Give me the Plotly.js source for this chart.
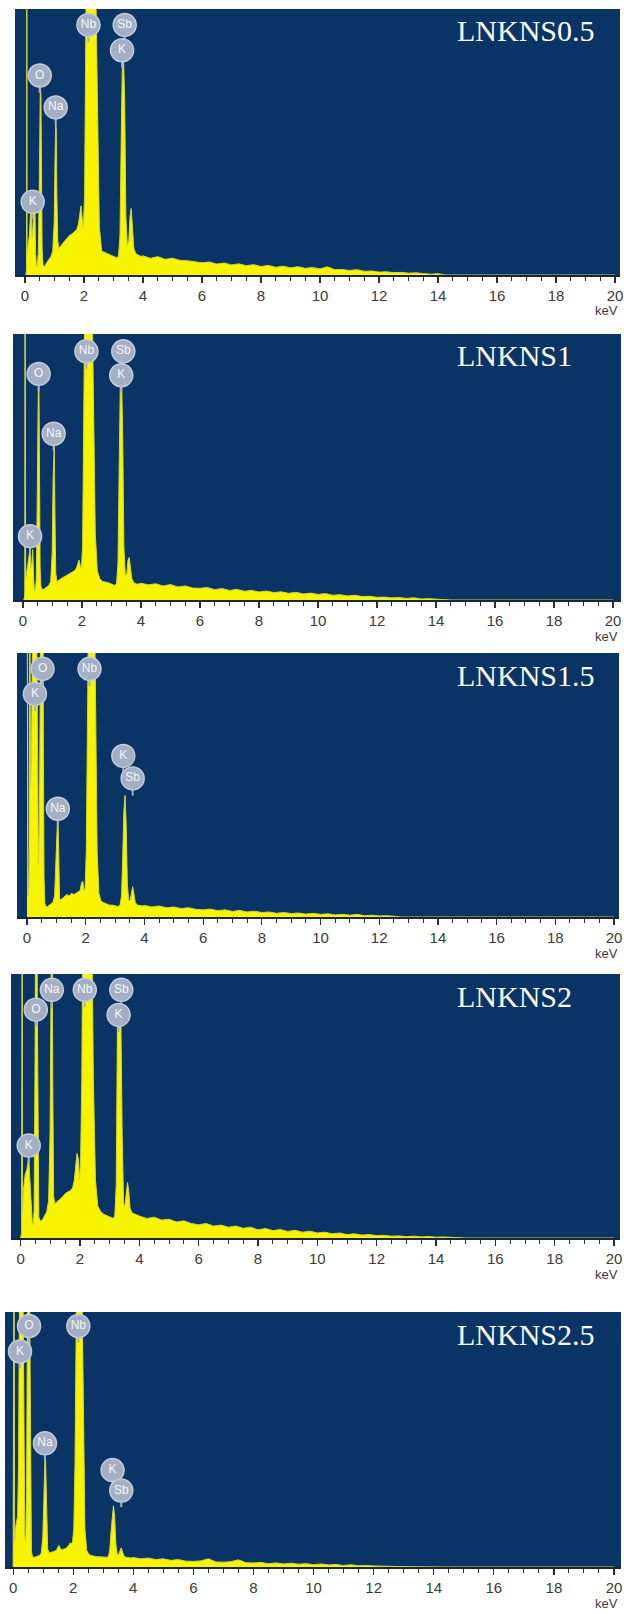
<!DOCTYPE html>
<html>
<head>
<meta charset="utf-8">
<script src="https://cdn.plot.ly/plotly-3.0.1.min.js"></script>
<style>html,body{margin:0;padding:0;background:#fff;}#chart{width:624px;height:1613px;}</style>
</head>
<body>
<div id="chart"></div>
<script>
// ---------- DATA ----------
const sampleNames = ['LNKNS0.5', 'LNKNS1', 'LNKNS1.5', 'LNKNS2', 'LNKNS2.5'];

const energyLow = [
  0.00, 0.03, 0.05, 0.06, 0.07, 0.09, 0.12, 0.15, 0.18, 0.21,
  0.24, 0.27, 0.30, 0.33, 0.36, 0.39, 0.42, 0.45, 0.48, 0.50,
  0.52, 0.54, 0.56, 0.58, 0.61, 0.65, 0.70, 0.76, 0.82, 0.88,
  0.94, 0.99, 1.02, 1.04, 1.06, 1.08, 1.11, 1.15, 1.21, 1.28,
  1.36, 1.44, 1.52, 1.60, 1.68, 1.75, 1.81, 1.86, 1.90, 1.94,
  1.98, 2.02, 2.06, 2.10, 2.14, 2.18, 2.22, 2.26, 2.30, 2.34,
  2.39, 2.45, 2.52, 2.60, 2.70, 2.80, 2.90, 3.00, 3.10, 3.17,
  3.22, 3.26, 3.30, 3.34, 3.38, 3.42, 3.47, 3.52, 3.56, 3.60,
  3.64, 3.69, 3.76, 3.85, 3.93
];
const energyTail = [
  4.00, 4.25, 4.50, 4.75, 5.00, 5.25, 5.50, 5.75, 6.00, 6.25,
  6.50, 6.75, 7.00, 7.25, 7.50, 7.75, 8.00, 8.25, 8.50, 8.75,
  9.00, 9.25, 9.50, 9.75, 10.00, 10.25, 10.50, 10.75, 11.00, 11.25,
  11.50, 11.75, 12.00, 12.25, 12.50, 12.75, 13.00, 13.25, 13.50, 13.75,
  14.00, 14.25, 14.50, 14.75, 15.00, 16, 17, 18, 19, 20
];

// counts (relative, 100 = top of frame; values above 100 are clipped)
const lnkns05Low = [
  0, 0, 2, 150, 8, 10, 12, 15, 22, 26,
  14, 18, 28, 30, 8, 3, 4, 8, 30, 60,
  71, 68, 35, 10, 4, 3, 4, 5, 6, 7,
  9, 20, 45, 57, 55, 30, 13, 10, 11, 12,
  13, 14, 15, 15.5, 16.5, 17, 19, 24, 26, 21,
  18, 30, 90, 150, 165, 170, 170, 165, 150, 130,
  115, 70, 18, 9, 8.5, 8, 7.5, 7, 6.5, 7,
  15, 50, 80, 82, 65, 22, 11, 13, 22, 25,
  18, 10, 8, 7.5, 7
];
const lnkns05Tail = [
  7.2, 6.3, 6.9, 5.9, 6.3, 5.5, 5.4, 4.9, 4.6, 4.9,
  4.1, 4.5, 3.8, 4.2, 3.5, 3.9, 3.2, 3.6, 2.9, 3.3,
  2.7, 3.1, 2.5, 2.8, 2.3, 3.1, 2.0, 2.1, 1.7, 2.0,
  1.4, 1.5, 1.1, 1.2, 0.9, 1.0, 0.7, 0.8, 0.6, 0.3,
  0.5, 0, 0, 0, 0, 0, 0, 0, 0, 0
];

const lnkns1Low = [
  0, 0, 1, 3, 150, 8, 10, 12, 15, 17,
  20, 12, 14, 19, 8, 3, 4, 8, 35, 65,
  80, 82, 50, 12, 5, 4, 4, 4.5, 5, 5.5,
  7, 18, 45, 58, 59, 35, 10, 7, 7.5, 8,
  8.5, 9, 9.5, 10, 10.5, 11, 12, 14, 15, 13,
  12, 20, 70, 150, 170, 175, 175, 165, 145, 115,
  70, 25, 11, 8, 7, 6.8, 6.5, 6, 5.5, 6,
  14, 50, 82, 84, 62, 20, 9, 10, 15, 16,
  12, 8, 6.5, 6, 6
];
const lnkns1Tail = [
  6.3, 5.7, 6.1, 5.3, 5.8, 4.9, 5.3, 4.5, 4.4, 4.7,
  3.9, 4.3, 3.6, 4.0, 3.3, 3.6, 3.0, 3.4, 2.8, 3.1,
  2.5, 2.9, 2.3, 2.6, 2.1, 2.4, 1.8, 2.0, 1.5, 1.8,
  1.3, 1.4, 1.0, 1.1, 0.8, 0.9, 0.6, 0.8, 0.4, 0.5,
  0.3, 0.2, 0, 0, 0, 0, 0, 0, 0, 0
];

const lnkns15Low = [
  150, 8, 10, 12, 20, 150, 50, 60, 140, 170,
  170, 165, 150, 110, 40, 20, 35, 90, 150, 170,
  170, 140, 60, 15, 5, 4, 4, 4.5, 5, 5.5,
  8, 20, 33, 37, 36, 18, 7, 6.5, 7, 7.5,
  8.5, 8, 9, 8.5, 9, 9.5, 10, 13, 13.5, 10,
  11, 25, 70, 140, 170, 180, 175, 160, 120, 70,
  25, 9, 6, 5.5, 5, 4.5, 4.5, 4.2, 4, 4.5,
  8, 22, 40, 46, 35, 12, 6, 6.5, 9, 11.5,
  9, 5.5, 4.5, 4.3, 4.2
];
const lnkns15Tail = [
  4.4, 3.8, 4.2, 3.5, 3.8, 3.2, 3.5, 2.9, 2.7, 3.0,
  2.4, 2.7, 2.1, 2.5, 1.9, 2.2, 1.7, 1.9, 1.4, 1.7,
  1.3, 1.5, 1.1, 1.4, 1.0, 1.2, 0.8, 1.0, 0.7, 1.0,
  0.5, 0.7, 0.4, 0.5, 0.3, 0, 0, 0, 0, 0,
  0, 0, 0, 0, 0, 0, 0, 0, 0, 0
];

const lnkns2Low = [
  0, 2, 150, 10, 12, 18, 22, 24, 25, 26,
  28, 31, 24, 18, 10, 6, 5, 10, 60, 140,
  170, 160, 90, 25, 8, 6.5, 6.5, 7.5, 9, 10,
  14, 40, 90, 120, 115, 60, 16, 13, 13.5, 14,
  15, 16, 17, 17.5, 18, 19, 22, 28, 32, 30,
  22, 30, 60, 130, 170, 180, 180, 175, 165, 150,
  130, 60, 22, 12, 10, 9, 8.5, 8, 7.5, 8,
  20, 80, 84, 84, 80, 40, 12, 13, 18, 21,
  18, 11, 9.5, 9, 8.5
];
const lnkns2Tail = [
  8.3, 7.4, 7.9, 6.8, 7.1, 6.1, 6.5, 5.5, 5.0, 5.5,
  4.5, 4.9, 4.1, 4.5, 3.7, 4.1, 3.1, 3.6, 2.8, 3.2,
  2.5, 2.9, 2.2, 2.6, 1.9, 2.2, 1.6, 1.9, 1.3, 1.6,
  1.1, 1.3, 0.9, 1.0, 0.7, 0.8, 0.5, 0.7, 0.4, 0.6,
  0.3, 0.4, 0.2, 0, 0, 0, 0, 0, 0, 0
];

const lnkns25Low = [
  0, 150, 10, 12, 14, 16, 18, 20, 40, 130,
  165, 170, 160, 110, 30, 12, 10, 30, 110, 160,
  170, 150, 90, 25, 6, 4, 3.8, 4, 4.2, 4.5,
  5.5, 12, 25, 38, 43, 42, 22, 7, 5.5, 5.8,
  6, 6.5, 8.5, 6.8, 7, 7.3, 8, 8.5, 9.5, 9,
  10, 15, 40, 100, 150, 170, 165, 140, 100, 50,
  15, 6.5, 5, 4.5, 4.2, 4, 4, 3.8, 3.8, 4,
  7, 14, 21, 24, 20, 9, 4.5, 5, 6.5, 7.5,
  6, 4.2, 3.8, 3.6, 3.5
];
const lnkns25Tail = [
  3.7, 3.2, 3.5, 2.9, 3.2, 2.6, 2.9, 2.3, 2.2, 2.4,
  3.2, 2.0, 1.9, 2.1, 2.8, 1.7, 1.6, 1.8, 1.3, 1.6,
  1.2, 1.5, 1.1, 1.3, 0.9, 1.2, 0.8, 1.0, 0.6, 0.9,
  0.5, 0.6, 0.4, 0.3, 0.3, 0.2, 0.2, 0.1, 0.1, 0,
  0, 0, 0, 0, 0, 0, 0, 0, 0, 0
];

// element labels: name, energy (keV), height (relative counts)
const labels05 = { name: ['Nb', 'Sb', 'K', 'O', 'Na', 'K'], e: [2.15, 3.38, 3.29, 0.50, 1.04, 0.26], c: [94, 94, 84.5, 75, 63, 27.5] };
const labels1 = { name: ['Nb', 'Sb', 'K', 'O', 'Na', 'K'], e: [2.15, 3.40, 3.33, 0.53, 1.04, 0.24], c: [93.5, 93.5, 84.5, 85, 62.5, 24] };
const labels15 = { name: ['O', 'K', 'Nb', 'K', 'Sb', 'Na'], e: [0.53, 0.27, 2.13, 3.28, 3.60, 1.05], c: [94, 84.5, 94, 61, 52.5, 41] };
const labels2 = { name: ['Na', 'Nb', 'Sb', 'O', 'K', 'K'], e: [1.05, 2.16, 3.39, 0.51, 3.30, 0.27], c: [94, 94, 94, 86.5, 84.5, 35] };
const labels25 = { name: ['O', 'Nb', 'K', 'Na', 'K', 'Sb'], e: [0.53, 2.17, 0.23, 1.06, 3.31, 3.60], c: [94.5, 94.5, 84.5, 48.5, 38, 30] };

// ---------- LAYOUT GEOMETRY (pixels) ----------
const W = 624, H = 1613;
const boxes = [
  { l: 15, r: 620, t: 9, b: 275, x0: 25, x20: 615 },
  { l: 13, r: 621, t: 334, b: 600, x0: 23, x20: 613 },
  { l: 17, r: 619, t: 653, b: 917, x0: 27, x20: 614 },
  { l: 11, r: 620, t: 974, b: 1238, x0: 20.7, x20: 614 },
  { l: 5, r: 621, t: 1312, b: 1567, x0: 13.1, x20: 614 }
];

const energy = energyLow.concat(energyTail);
const spectra = [
  lnkns05Low.concat(lnkns05Tail),
  lnkns1Low.concat(lnkns1Tail),
  lnkns15Low.concat(lnkns15Tail),
  lnkns2Low.concat(lnkns2Tail),
  lnkns25Low.concat(lnkns25Tail)
];
const labelSets = [labels05, labels1, labels15, labels2, labels25];
spectra.forEach((s, i) => { if (s.length !== energy.length) throw new Error('length mismatch in spectrum ' + i + ': ' + s.length + ' vs ' + energy.length); });

const traces = [];
const layout = {
  width: W, height: H,
  margin: { l: 0, r: 0, t: 0, b: 0 },
  paper_bgcolor: '#ffffff',
  plot_bgcolor: '#0a3466',
  showlegend: false,
  annotations: []
};

boxes.forEach((bx, i) => {
  const n = i + 1;
  const xa = 'x' + (n === 1 ? '' : n), ya = 'y' + (n === 1 ? '' : n);
  const ppk = (bx.x20 - bx.x0) / 20;
  traces.push({
    x: energy, y: spectra[i], xaxis: xa, yaxis: ya,
    type: 'scatter', mode: 'lines', fill: 'tozeroy',
    fillcolor: '#f8f400',
    line: { color: '#d2d63c', width: 1 },
    hoverinfo: 'skip'
  });
  const L = labelSets[i];
  traces.push({
    x: L.e, y: L.c, text: L.name, xaxis: xa, yaxis: ya,
    type: 'scatter', mode: 'markers+text',
    textposition: 'middle center',
    textfont: { family: 'Liberation Sans, Arial, sans-serif', size: 12, color: '#f4f6fa' },
    marker: { size: 23, color: '#a4afc3', line: { width: 1.5, color: '#c4ccd9' } },
    error_y: { type: 'data', symmetric: false, array: L.c.map(() => 0), arrayminus: L.c.map(() => 6.5), width: 0, thickness: 2, color: '#a4afc3' },
    cliponaxis: false,
    hoverinfo: 'skip'
  });
  layout['xaxis' + (n === 1 ? '' : n)] = {
    domain: [bx.l / W, bx.r / W],
    range: [(bx.l - bx.x0) / ppk, (bx.r - bx.x0) / ppk],
    anchor: ya,
    tickmode: 'linear', tick0: 0, dtick: 2,
    ticks: 'outside', ticklen: 6, tickwidth: 1.2, tickcolor: '#2d2d2d',
    minor: { tickmode: 'linear', tick0: 0, dtick: 0.5, ticks: 'outside', ticklen: 4, tickwidth: 1, tickcolor: '#2d2d2d', showgrid: false },
    showline: true, linecolor: '#1a2536', linewidth: 1.5,
    showgrid: false, zeroline: false,
    tickfont: { family: 'Liberation Sans, Arial, sans-serif', size: 15, color: '#3a3a3a' },
    fixedrange: true
  };
  layout['yaxis' + (n === 1 ? '' : n)] = {
    domain: [(H - bx.b) / H, (H - bx.t) / H],
    range: [0, 100],
    anchor: xa,
    showticklabels: false, ticks: '', showgrid: false, zeroline: false,
    showline: false, fixedrange: true
  };
  layout.annotations.push({
    xref: 'paper', yref: 'paper',
    x: 455 / W, y: (H - (bx.t + 22)) / H,
    xanchor: 'left', yanchor: 'middle',
    text: sampleNames[i], showarrow: false,
    font: { family: 'Liberation Serif, Times New Roman, serif', size: 30, color: '#ffffff' }
  });
  layout.annotations.push({
    xref: 'paper', yref: 'paper',
    x: 620 / W, y: (H - (bx.b + 36)) / H,
    xanchor: 'right', yanchor: 'middle',
    text: 'keV', showarrow: false,
    font: { family: 'Liberation Sans, Arial, sans-serif', size: 13, color: '#3a3a3a' }
  });
});

Plotly.newPlot('chart', traces, layout, { staticPlot: true, displayModeBar: false });
</script>
</body>
</html>
